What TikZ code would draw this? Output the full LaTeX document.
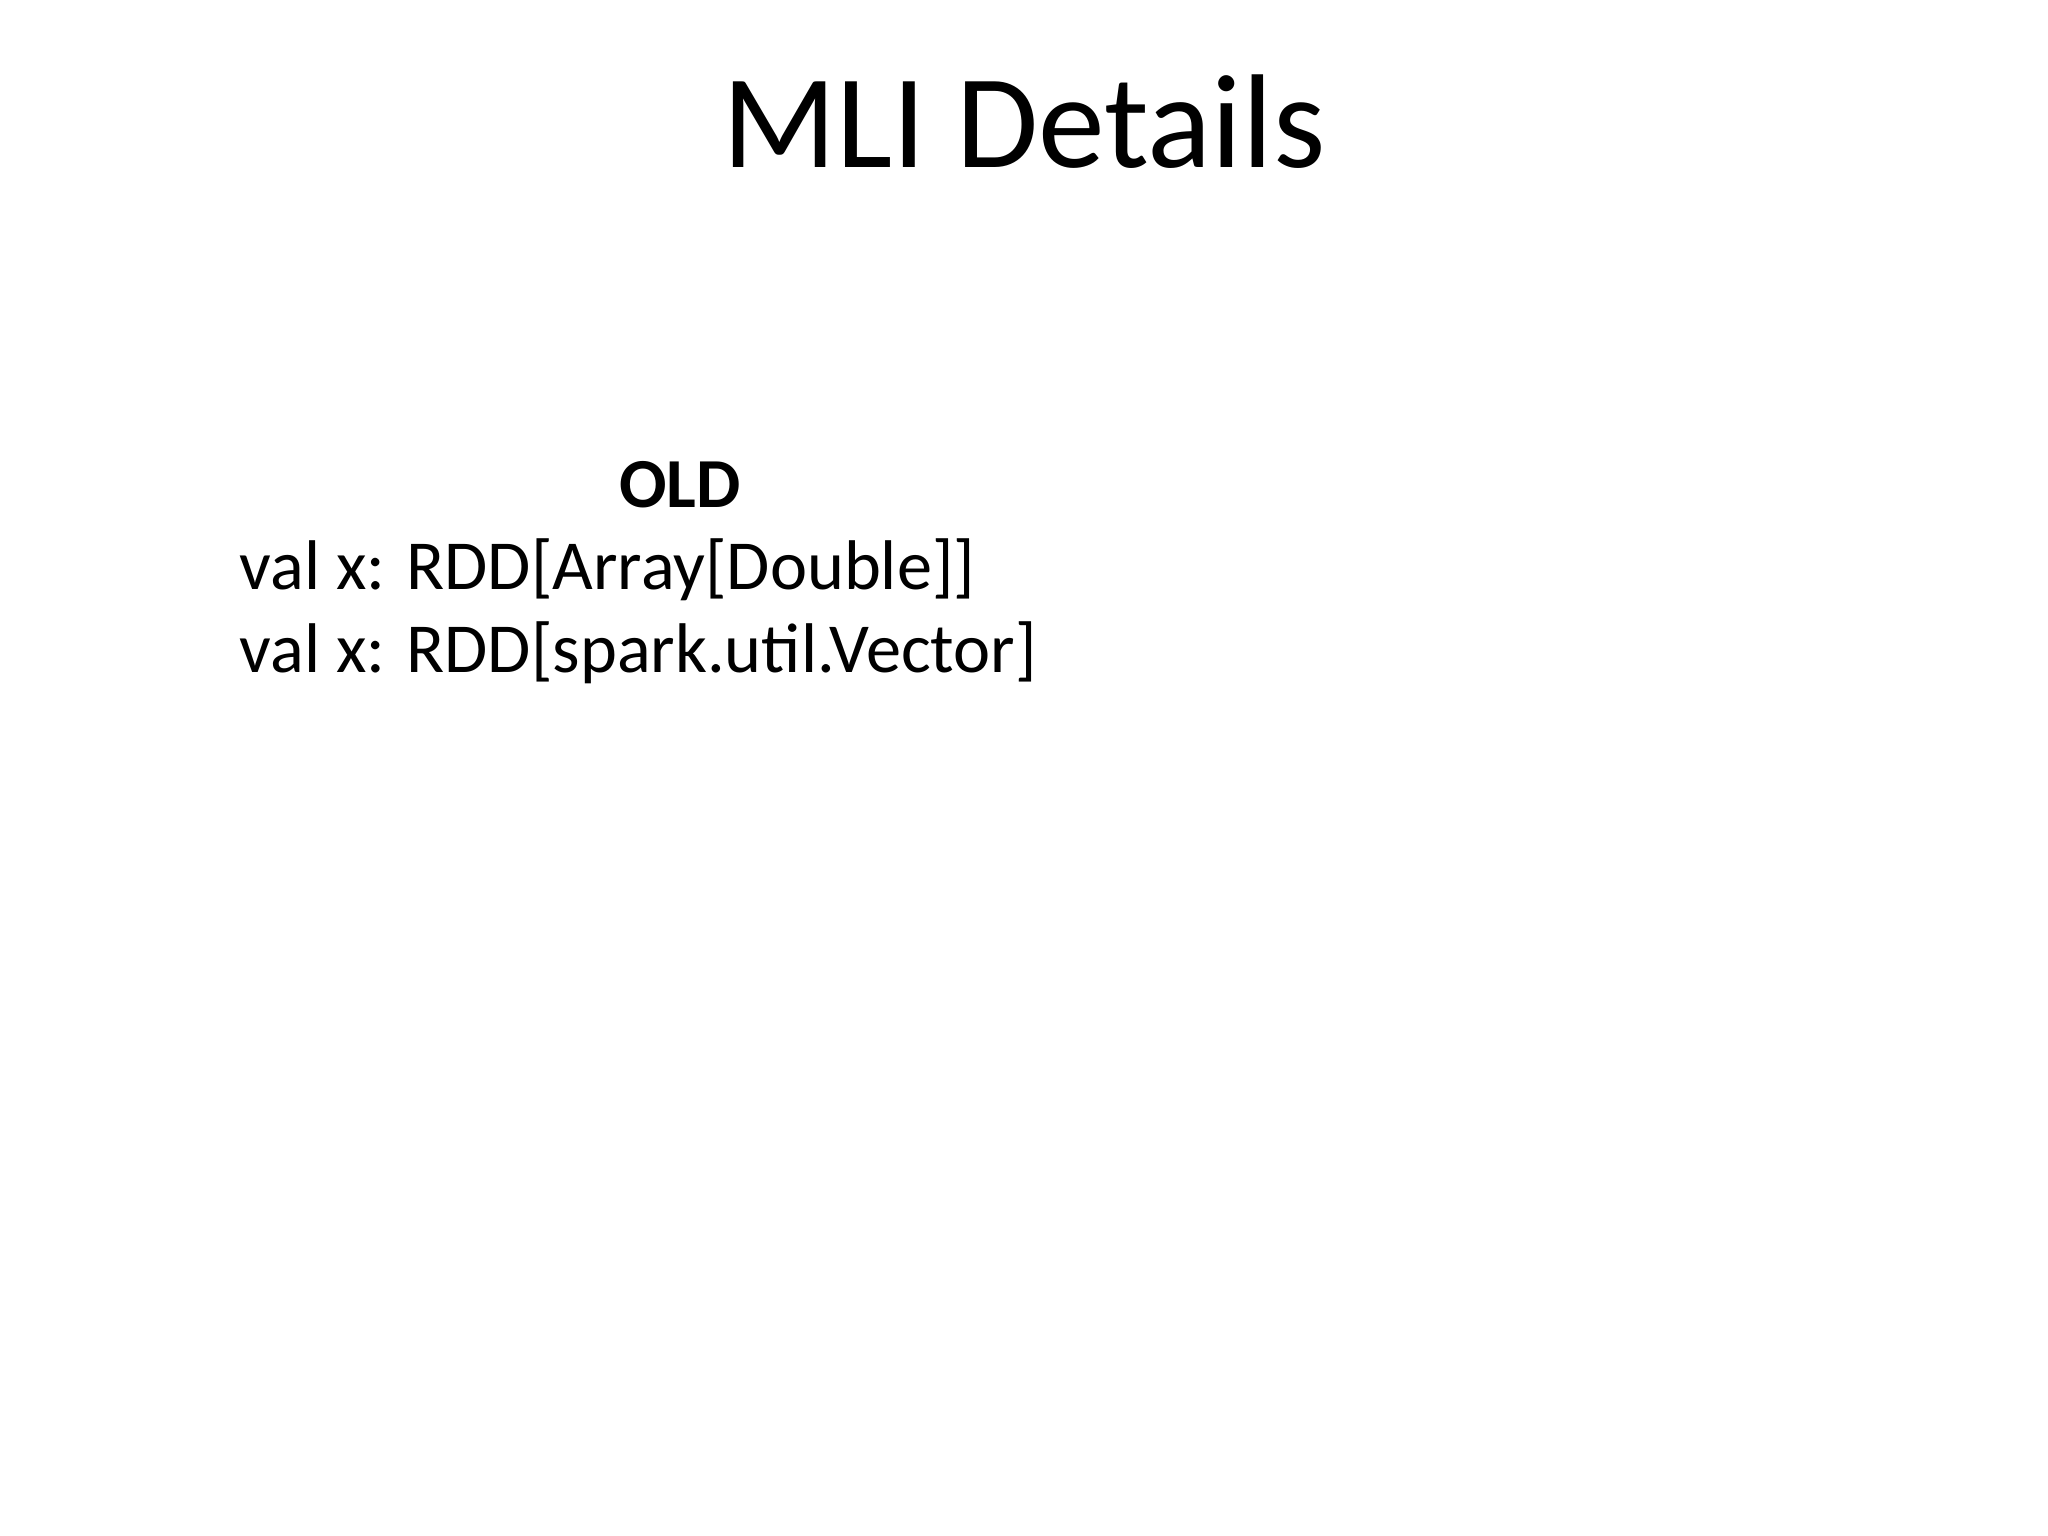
\documentclass[tikz,border=0pt]{standalone}
\usepackage{fontspec}
\setmainfont{Carlito}
\begin{document}
\begin{tikzpicture}[x=1cm,y=-1cm,
  body/.style={anchor=base west,inner sep=0pt,font=\fontsize{20}{24}\selectfont}]
\useasboundingbox (0,0) rectangle (20.48,15.36);
\node[anchor=base,inner sep=0pt,font=\fontsize{38}{44}\selectfont] (title) at (10.24,1.68) {MLI Details};
\node[anchor=base,inner sep=0pt,font=\fontsize{20}{24}\selectfont\bfseries] (old) at (6.80,5.08) {OLD};
\node[body] (l1) at (2.39,5.90) {val x: RDD[Array[Double]]};
\node[body] (l2) at (2.39,6.73) {val x: RDD[spark.util.Vector]};
\end{tikzpicture}
\end{document}
